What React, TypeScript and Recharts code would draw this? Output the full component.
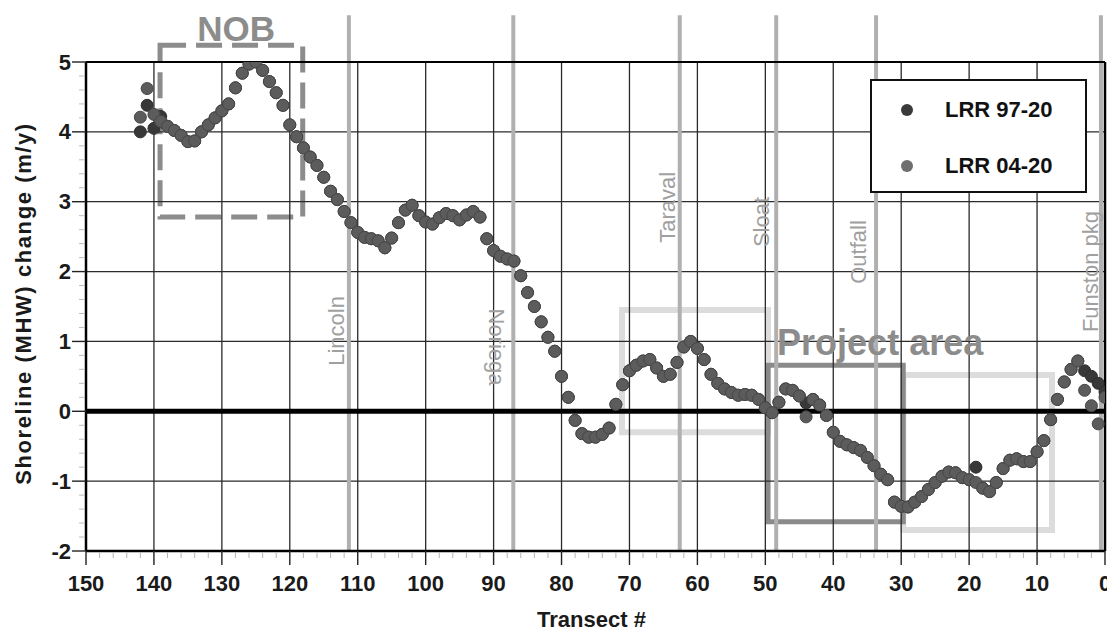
import React from 'react';
import {
  ScatterChart,
  Scatter,
  XAxis,
  YAxis,
  ReferenceLine,
  ReferenceArea,
  ReferenceDot,
  Legend,
  Label,
} from 'recharts';

// ---------- data ----------
const transects = [
  142, 141, 140, 139, 138, 137, 136, 135, 134, 133,
  132, 131, 130, 129, 128, 127, 126, 125, 124, 123,
  122, 121, 120, 119, 118, 117, 116, 115, 114, 113,
  112, 111, 110, 109, 108, 107, 106, 105, 104, 103,
  102, 101, 100, 99, 98, 97, 96, 95, 94, 93,
  92, 91, 90, 89, 88, 87, 86, 85, 84, 83,
  82, 81, 80, 79, 78, 77, 76, 75, 74, 73,
  72, 71, 70, 69, 68, 67, 66, 65, 64, 63,
  62, 61, 60, 59, 58, 57, 56, 55, 54, 53,
  52, 51, 50, 49, 48, 47, 46, 45, 44, 43,
  42, 41, 40, 39, 38, 37, 36, 35, 34, 33,
  32, 31, 30, 29, 28, 27, 26, 25, 24, 23,
  22, 21, 20, 19, 18, 17, 16, 15, 14, 13,
  12, 11, 10, 9, 8, 7, 6, 5, 4, 3,
  2, 1, 0,
];

const lrr9720 = [
  4.0, 4.38, 4.05, 4.22, 4.08, 4.02, 3.95, 3.86, 3.87, 4.0,
  4.1, 4.2, 4.3, 4.4, 4.63, 4.84, 4.97, 5.0, 4.88, 4.72,
  4.56, 4.38, 4.1, 3.93, 3.77, 3.64, 3.52, 3.35, 3.15, 3.03,
  2.86, 2.7, 2.56, 2.49, 2.47, 2.44, 2.34, 2.48, 2.7, 2.88,
  2.95, 2.8, 2.71, 2.68, 2.77, 2.83, 2.8, 2.74, 2.81, 2.86,
  2.78, 2.47, 2.3, 2.22, 2.18, 2.15, 1.94, 1.7, 1.5, 1.28,
  1.06, 0.86, 0.5, 0.2, -0.13, -0.32, -0.37, -0.37, -0.33, -0.24,
  0.1, 0.38, 0.58, 0.66, 0.72, 0.74, 0.62, 0.5, 0.53, 0.7,
  0.92, 1.0, 0.9, 0.74, 0.53, 0.4, 0.32, 0.27, 0.23, 0.24,
  0.23, 0.17, 0.05, -0.02, 0.13, 0.32, 0.3, 0.22, 0.12, 0.17,
  0.09, -0.06, -0.3, -0.43, -0.48, -0.52, -0.56, -0.66, -0.78, -0.9,
  -0.98, -1.3, -1.36, -1.37, -1.3, -1.22, -1.12, -1.02, -0.93, -0.87,
  -0.88, -0.95, -0.98, -0.8, -1.1, -1.15, -1.02, -0.82, -0.7, -0.68,
  -0.72, -0.72, -0.58, -0.42, -0.12, 0.17, 0.42, 0.6, 0.72, 0.58,
  0.5, 0.4, 0.28,
];

const lrr0420 = [
  4.21, 4.62, 4.25, 4.15, 4.08, 4.02, 3.95, 3.86, 3.87, 4.0,
  4.1, 4.2, 4.3, 4.4, 4.63, 4.84, 4.97, 5.0, 4.88, 4.72,
  4.56, 4.38, 4.1, 3.93, 3.77, 3.64, 3.52, 3.35, 3.15, 3.03,
  2.86, 2.7, 2.56, 2.49, 2.47, 2.44, 2.34, 2.48, 2.7, 2.88,
  2.95, 2.8, 2.71, 2.68, 2.77, 2.83, 2.8, 2.74, 2.81, 2.86,
  2.78, 2.47, 2.3, 2.22, 2.18, 2.15, 1.94, 1.7, 1.5, 1.28,
  1.06, 0.86, 0.5, 0.2, -0.13, -0.32, -0.37, -0.37, -0.33, -0.24,
  0.1, 0.38, 0.58, 0.66, 0.72, 0.74, 0.62, 0.5, 0.53, 0.7,
  0.92, 1.0, 0.9, 0.74, 0.53, 0.4, 0.32, 0.27, 0.23, 0.24,
  0.23, 0.17, 0.05, -0.02, 0.13, 0.32, 0.3, 0.22, -0.08, 0.17,
  0.09, -0.06, -0.3, -0.43, -0.48, -0.52, -0.56, -0.66, -0.78, -0.9,
  -0.98, -1.3, -1.36, -1.37, -1.3, -1.22, -1.12, -1.02, -0.93, -0.87,
  -0.88, -0.95, -0.98, -1.02, -1.1, -1.15, -1.02, -0.82, -0.7, -0.68,
  -0.72, -0.72, -0.58, -0.42, -0.12, 0.17, 0.42, 0.6, 0.72, 0.3,
  0.08, -0.18, 0.2,
];

const seriesNames = ['LRR 97-20', 'LRR 04-20'];

const xMajorTicks = [0, 10, 20, 30, 40, 50, 60, 70, 80, 90, 100, 110, 120, 130, 140, 150];
const yMajorTicks = [-2, -1, 0, 1, 2, 3, 4, 5];

const streets = ['Lincoln', 'Noriega', 'Taraval', 'Sloat', 'Outfall', 'Funston pkg'];
const streetTransects = [111.3, 87.1, 62.6, 48.4, 33.7, 0.6];

// ---------- annotation layout (data coordinates) ----------
const streetLabelPos = [
  { t: 113.1, v: 1.15, angle: -90 },
  { t: 89.5, v: 0.92, angle: 90 },
  { t: 64.4, v: 2.92, angle: -90 },
  { t: 50.6, v: 2.71, angle: -90 },
  { t: 36.4, v: 2.28, angle: -90 },
  { t: 2.2, v: 2.0, angle: -90 },
];

const xTicks: number[] = [];
for (let i = 0; i <= 150; i += 2) xTicks.push(i);
const yTicks: number[] = [];
for (let i = -20; i <= 50; i += 2) yTicks.push(i / 10);

const data9720 = transects.map((t, i) => ({ t, v: lrr9720[i] }));
const data0420 = transects.map((t, i) => ({ t, v: lrr0420[i] }));

const DARK = '#383838';
const LIGHT = '#5c5c5c';
const legendColors = ['#3a3a3a', '#6e6e6e'];
const FONT = '"Liberation Sans", Arial, Helvetica, sans-serif';

const XTick = (props: any) => {
  const { x, y, payload } = props;
  const v = payload.value;
  const major = v % 10 === 0;
  if (!major) {
    return <line x1={x} x2={x} y1={y + 1} y2={y + 7} stroke="#b5b5b5" strokeWidth={1} />;
  }
  return (
    <g>
      <line x1={x} x2={x} y1={y} y2={y + 14} stroke="#222" strokeWidth={1.4} />
      <text
        x={x}
        y={y + 32}
        textAnchor="middle"
        dominantBaseline="central"
        fontSize={22}
        fontWeight="bold"
        fill="#1a1a1a"
        fontFamily={FONT}
      >
        {v}
      </text>
    </g>
  );
};

const YTick = (props: any) => {
  const { x, y, payload } = props;
  const v = payload.value;
  const major = Math.abs(v - Math.round(v)) < 1e-6;
  if (!major) {
    return <line x1={x - 7} x2={x - 1} y1={y} y2={y} stroke="#bdbdbd" strokeWidth={1} />;
  }
  return (
    <g>
      <line x1={x - 14} x2={x} y1={y} y2={y} stroke="#222" strokeWidth={1.4} />
      <text
        x={x - 15}
        y={y}
        textAnchor="end"
        dominantBaseline="central"
        fontSize={22}
        fontWeight="bold"
        fill="#1a1a1a"
        fontFamily={FONT}
      >
        {Math.round(v)}
      </text>
    </g>
  );
};

const dotShape = (fill: string, stroke: string) => (props: any) => {
  const { cx, cy } = props;
  if (cx == null || cy == null) return <g />;
  return <circle cx={cx} cy={cy} r={6} fill={fill} stroke={stroke} strokeWidth={1} />;
};

const LegendBox = () => {
  return (
    <div
      style={{
        width: 213,
        height: 110,
        border: '2px solid #111',
        background: '#fff',
        position: 'relative',
        fontFamily: FONT,
      }}
    >
      {seriesNames.map((name, i) => (
        <div
          key={name}
          style={{
            position: 'absolute',
            left: 0,
            top: i === 0 ? 14 : 70,
            height: 30,
            display: 'flex',
            alignItems: 'center',
          }}
        >
          <svg width={60} height={30} style={{ display: 'block' }}>
            <circle cx={35} cy={15} r={6} fill={legendColors[i]} />
          </svg>
          <span style={{ marginLeft: 13, fontSize: 22, fontWeight: 'bold', color: '#111' }}>{name}</span>
        </div>
      ))}
    </div>
  );
};

export default function App() {
  return (
    <div style={{ width: 1107, height: 625, fontFamily: FONT, position: 'relative' }}>
      <ScatterChart width={1107} height={625} margin={{ top: 54, right: 10, bottom: 0, left: 0 }}>
        <XAxis
          type="number"
          dataKey="t"
          domain={[0, 150]}
          reversed
          ticks={xTicks}
          interval={0}
          tick={<XTick />}
          tickLine={false}
          tickSize={0}
          tickMargin={0}
          height={82}
          axisLine={{ stroke: '#000', strokeWidth: 2.5 }}
          allowDataOverflow
        >
          <Label
            value="Transect #"
            position="center"
            dx={-4}
            dy={27}
            fontSize={22}
            fontWeight="bold"
            fill="#1a1a1a"
          />
        </XAxis>
        <YAxis
          type="number"
          dataKey="v"
          domain={[-2, 5]}
          ticks={yTicks}
          interval={0}
          tick={<YTick />}
          tickLine={false}
          tickSize={0}
          tickMargin={0}
          width={78}
          axisLine={{ stroke: '#000', strokeWidth: 2.5 }}
          allowDataOverflow
        >
          <Label
            value="Shoreline (MHW) change (m/y)"
            position="center"
            angle={-90}
            dx={-24}
            dy={-3}
            fontSize={22}
            fontWeight="bold"
            fill="#1a1a1a"
            letterSpacing={1.6}
          />
        </YAxis>

        {/* light highlight boxes */}
        <ReferenceArea x1={71.1} x2={49.6} y1={-0.3} y2={1.45} fill="none" stroke="#dcdcdc" strokeWidth={6} ifOverflow="visible" />
        <ReferenceArea x1={29.7} x2={7.8} y1={-1.7} y2={0.52} fill="none" stroke="#dcdcdc" strokeWidth={6} ifOverflow="visible" />

        {/* grid */}
        {xMajorTicks.filter((v) => v > 0 && v < 150).map((v) => (
          <ReferenceLine key={'gx' + v} x={v} stroke="#2a2a2a" strokeWidth={1.3} />
        ))}
        {yMajorTicks.filter((v) => v > -2 && v < 5 && v !== 0).map((v) => (
          <ReferenceLine key={'gy' + v} y={v} stroke="#2a2a2a" strokeWidth={1.3} />
        ))}

        {/* street lines */}
        {streetTransects.map((t, i) => (
          <ReferenceLine
            key={'st' + i}
            segment={[{ x: t, y: -2 }, { x: t, y: 5.67 }]}
            stroke="#b0b0b0"
            strokeWidth={4}
            ifOverflow="visible"
          />
        ))}
        {streets.map((s, i) => (
          <ReferenceDot
            key={'sl' + i}
            x={streetLabelPos[i].t}
            y={streetLabelPos[i].v}
            r={0}
            fill="none"
            stroke="none"
            ifOverflow="visible"
            label={{
              value: s,
              position: 'center',
              angle: streetLabelPos[i].angle,
              fontSize: 22,
              fill: '#a0a0a0',
            }}
          />
        ))}

        {/* plot frame */}
        <ReferenceLine y={5} stroke="#000" strokeWidth={2.2} ifOverflow="visible" />
        <ReferenceLine x={0} stroke="#000" strokeWidth={2.5} ifOverflow="visible" />
        <ReferenceLine y={0} stroke="#000" strokeWidth={5} />

        {/* NOB and project boxes */}
        <ReferenceArea
          x1={139.1}
          x2={118.1}
          y1={2.78}
          y2={5.24}
          fill="none"
          stroke="#8c8c8c"
          strokeWidth={5}
          strokeDasharray="26 10"
          ifOverflow="visible"
        />
        <ReferenceArea
          x1={49.6}
          x2={29.7}
          y1={-1.58}
          y2={0.66}
          fill="none"
          stroke="#8a8a8a"
          strokeWidth={5}
          ifOverflow="visible"
        />
        <ReferenceDot
          x={127.9}
          y={5.48}
          r={0}
          fill="none"
          stroke="none"
          ifOverflow="visible"
          label={{ value: 'NOB', position: 'center', fontSize: 35, fontWeight: 'bold', fill: '#8c8c8c' }}
        />
        <ReferenceDot
          x={33.1}
          y={0.99}
          r={0}
          fill="none"
          stroke="none"
          ifOverflow="visible"
          label={{ value: 'Project area', position: 'center', fontSize: 36, fontWeight: 'bold', fill: '#8c8c8c' }}
        />

        <Scatter
          name={seriesNames[0]}
          data={data9720}
          fill={legendColors[0]}
          shape={dotShape(DARK, '#2e2e2e')}
          isAnimationActive={false}
        />
        <Scatter
          name={seriesNames[1]}
          data={data0420}
          fill={legendColors[1]}
          shape={dotShape(LIGHT, '#474747')}
          isAnimationActive={false}
        />

        <Legend
          layout="vertical"
          align="center"
          verticalAlign="middle"
          content={<LegendBox />}
          wrapperStyle={{ position: 'absolute', left: 862, top: 71, width: 217, height: 114, bottom: 'auto', right: 'auto' }}
        />
      </ScatterChart>
    </div>
  );
}
